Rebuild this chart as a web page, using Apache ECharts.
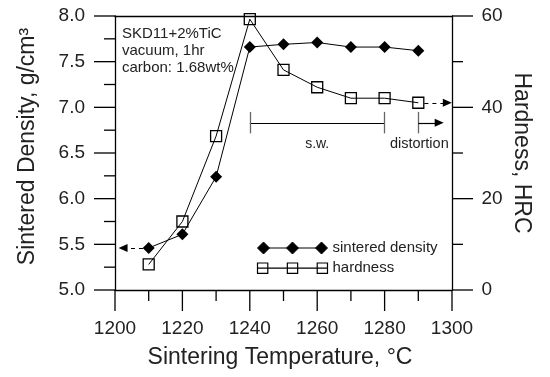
<!DOCTYPE html>
<html><head><meta charset="utf-8">
<script src="https://cdn.jsdelivr.net/npm/echarts@6/dist/echarts.min.js"></script>
<style>html,body{margin:0;padding:0;background:#fff}#c{width:550px;height:377px}</style>
</head><body><div id="c"></div>
<script>
// ---- data ----
const temperatures = [1210, 1220, 1230, 1240, 1250, 1260, 1270, 1280, 1290];
const density = [5.46, 5.61, 6.24, 7.66, 7.69, 7.71, 7.66, 7.66, 7.62];
const hardness = [5.6, 15.0, 33.7, 59.3, 48.2, 44.4, 42.0, 42.0, 41.0];
const xRange = [1200, 1300, 20, 10];          // min, max, major step, minor step
const densityRange = [5.0, 8.0, 0.5, 0.25];
const hardnessRange = [0, 60, 20, 10];
const infoLines = ['SKD11+2%TiC', 'vacuum, 1hr', 'carbon: 1.68wt%'];
const swRange = [1240, 1280];          // s.w. window (°C)
const distortionStart = 1290;           // distortion onset (°C)
const bracketLevel = 36.6;              // hardness units
const bracketSpan = [34.3, 39.0];
const arrowRight = [1291.8, 1298.6];
const arrowLeft = [1208.3, 1202.4];
const distArrow = [1290, 1296.2];
const labelLevel = 32.0;

const FONT = '"Liberation Sans", Arial, Helvetica, sans-serif';
const TXT = '#222';
const chart = echarts.init(document.getElementById('c'), null, {renderer: 'canvas'});

const pts = (ys) => temperatures.map((t, i) => [t, ys[i]]);
const diamondIcon = 'path://M6,6L64,6M0,6L6,0L12,6L6,12ZM29,6L35,0L41,6L35,12ZM58,6L64,0L70,6L64,12Z';
const squareIcon = 'path://M1,6L69,6M1,1L11,1L11,11L1,11ZM30,1L40,1L40,11L30,11ZM59,1L69,1L69,11L59,11Z';

const axisLine = () => ({show: true, onZero: false, lineStyle: {color: '#000', width: 1.3}});

const seg = (a, b, startExtra, endExtra) => [Object.assign({coord: a, symbol: 'none'}, startExtra || {}), Object.assign({coord: b, symbol: 'none'}, endExtra || {})];
const arrowHead = {symbol: 'triangle', symbolSize: [8, 9]};
const dashed = {lineStyle: {type: [4, 4], color: '#000', width: 1.2}};
const grayTick = {lineStyle: {color: '#666', width: 1.3}};

chart.setOption({
  animation: false,
  backgroundColor: '#fff',
  textStyle: {fontFamily: FONT},
  grid: {left: 115, right: 98, top: 16, bottom: 87},
  xAxis: [{
    type: 'value', position: 'bottom', min: xRange[0], max: xRange[1], interval: xRange[2],
    axisLine: axisLine(), axisTick: {show: false}, splitLine: {show: false},
    axisLabel: {color: TXT, fontSize: 19, margin: 29, fontFamily: FONT, formatter: v => String(v)},
    name: 'Sintering Temperature, °C', nameLocation: 'middle', nameGap: 56,
    nameTextStyle: {color: TXT, fontSize: 23, fontFamily: FONT, padding: [0, 7, 0, 0]}
  }, {
    type: 'value', position: 'top', min: xRange[0], max: xRange[1], interval: xRange[2],
    axisLine: axisLine(), axisTick: {show: false}, axisLabel: {show: false}, splitLine: {show: false}
  }],
  yAxis: [{
    type: 'value', position: 'left', min: densityRange[0], max: densityRange[1], interval: densityRange[2],
    axisLine: axisLine(), axisTick: {show: false}, splitLine: {show: false},
    axisLabel: {color: TXT, fontSize: 19, margin: 30, fontFamily: FONT, formatter: v => v.toFixed(1)},
    name: 'Sintered Density, g/cm³', nameLocation: 'middle', nameGap: 76, nameRotate: 90,
    nameTextStyle: {color: TXT, fontSize: 23, fontFamily: FONT, padding: [0, 0, 0, 13]}
  }, {
    type: 'value', position: 'right', min: hardnessRange[0], max: hardnessRange[1], interval: hardnessRange[2],
    axisLine: axisLine(), axisTick: {show: false}, splitLine: {show: false},
    axisLabel: {show: false},
    name: 'Hardness, HRC', nameLocation: 'middle', nameGap: 58, nameRotate: -90,
    nameTextStyle: {color: TXT, fontSize: 23, fontFamily: FONT}
  }],
  legend: {
    orient: 'vertical', left: 255, top: 240.5, padding: 0, itemWidth: 70, itemHeight: 12, itemGap: 5,
    textStyle: {color: TXT, fontSize: 15, fontFamily: FONT},
    selectedMode: false,
    data: [
      {name: 'sintered density', icon: diamondIcon, itemStyle: {color: '#000', borderColor: '#000', borderWidth: 1}},
      {name: 'hardness', icon: squareIcon, itemStyle: {color: 'none', borderColor: '#000', borderWidth: 1.2}}
    ]
  },
  series: [{
    name: 'sintered density', type: 'line', xAxisIndex: 0, yAxisIndex: 0, data: pts(density),
    symbol: 'diamond', symbolSize: 12, showAllSymbol: true,
    itemStyle: {color: '#000', borderColor: '#000', borderWidth: 0},
    lineStyle: {color: '#000', width: 1},
    markLine: {silent: true, label: {show: false}, lineStyle: {color: '#000', width: 1.2, type: [4, 4]},
      data: [seg([arrowLeft[0], density[0]], [arrowLeft[1], density[0]], null, arrowHead)]}
  }, {
    name: 'hardness', type: 'line', xAxisIndex: 0, yAxisIndex: 1, data: pts(hardness),
    symbol: 'rect', symbolSize: 11, showAllSymbol: true, z: 3,
    itemStyle: {color: 'rgba(0,0,0,0)', borderColor: '#000', borderWidth: 1.3},
    lineStyle: {color: '#000', width: 1},
    markLine: {silent: true, label: {show: false}, lineStyle: {color: '#000', width: 1.2, type: 'solid'},
      data: [
        seg([arrowRight[0], hardness[hardness.length - 1]], [arrowRight[1], hardness[hardness.length - 1]], dashed, arrowHead),
        seg([swRange[0], bracketLevel], [swRange[1], bracketLevel]),
        seg([swRange[0], bracketSpan[0]], [swRange[0], bracketSpan[1]], grayTick),
        seg([swRange[1], bracketSpan[0]], [swRange[1], bracketSpan[1]], grayTick),
        seg([distortionStart, bracketSpan[0]], [distortionStart, bracketSpan[1]], grayTick),
        seg([distArrow[0], bracketLevel], [distArrow[1], bracketLevel], null, arrowHead)
      ]}
  }]
});

// ---- tick marks (major 21px, minor 11px, outward) placed through the axes' own scales ----
const pL = (x, y) => chart.convertToPixel({xAxisIndex: 0, yAxisIndex: 0}, [x, y]);
const pR = (x, y) => chart.convertToPixel({xAxisIndex: 0, yAxisIndex: 1}, [x, y]);
const corner = pL(xRange[0], densityRange[0]);
const farCorner = pL(xRange[1], densityRange[1]);
const leftX = corner[0], bottomY = corner[1], rightX = farCorner[0];
const tickStyle = {stroke: '#000', lineWidth: 1.3};
const graphics = [];
function tickValues(r) {
  const n = Math.round((r[1] - r[0]) / r[3]);
  const step = Math.round(r[2] / r[3]);
  const out = [];
  for (let i = 0; i <= n; i++) out.push({v: r[0] + i * r[3], major: i % step === 0});
  return out;
}
tickValues(xRange).forEach(t => {
  const x = pL(t.v, densityRange[0])[0], len = t.major ? 21 : 11;
  graphics.push({type: 'line', silent: true, z: 10, shape: {x1: x, y1: bottomY, x2: x, y2: bottomY + len}, style: tickStyle});
});
tickValues(densityRange).forEach(t => {
  const y = pL(xRange[0], t.v)[1], len = t.major ? 21 : 11;
  graphics.push({type: 'line', silent: true, z: 10, shape: {x1: leftX, y1: y, x2: leftX - len, y2: y}, style: tickStyle});
});
tickValues(hardnessRange).forEach(t => {
  const y = pR(xRange[1], t.v)[1], len = t.major ? 21 : 11;
  graphics.push({type: 'line', silent: true, z: 10, shape: {x1: rightX, y1: y, x2: rightX + len, y2: y}, style: tickStyle});
  if (t.major) graphics.push({type: 'text', silent: true, z: 10, x: rightX + 29.5, y: y,
    style: {text: String(t.v), font: '19px ' + FONT, fill: TXT, align: 'left', verticalAlign: 'middle'}});
});

const sw = pR((swRange[0] + swRange[1]) / 2, labelLevel);
const dist = pR(distortionStart, labelLevel);
graphics.push(
  {type: 'text', left: 122, top: 25, style: {text: infoLines.join('\n'), font: '15px ' + FONT, fill: TXT, lineHeight: 17}},
  {type: 'text', x: sw[0], y: sw[1], style: {text: 's.w.', font: '14px ' + FONT, fill: TXT, align: 'center', verticalAlign: 'middle'}},
  {type: 'text', x: dist[0] + 1, y: dist[1], style: {text: 'distortion', font: '14.5px ' + FONT, fill: TXT, align: 'center', verticalAlign: 'middle'}}
);
chart.setOption({graphic: graphics});
</script></body></html>
